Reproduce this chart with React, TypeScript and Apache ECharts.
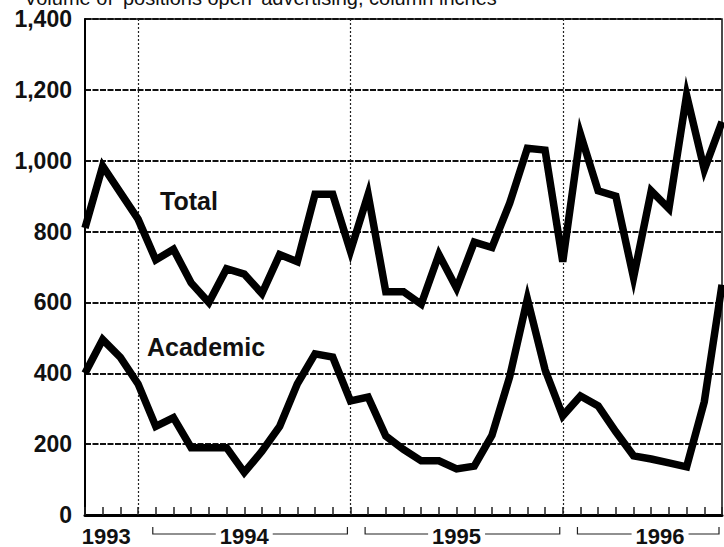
import React, { useEffect, useRef } from "react";
import * as echarts from "echarts";

const months = [
  "Oct 1993", "Nov 1993", "Dec 1993",
  "Jan 1994", "Feb 1994", "Mar 1994", "Apr 1994", "May 1994", "Jun 1994",
  "Jul 1994", "Aug 1994", "Sep 1994", "Oct 1994", "Nov 1994", "Dec 1994",
  "Jan 1995", "Feb 1995", "Mar 1995", "Apr 1995", "May 1995", "Jun 1995",
  "Jul 1995", "Aug 1995", "Sep 1995", "Oct 1995", "Nov 1995", "Dec 1995",
  "Jan 1996", "Feb 1996", "Mar 1996", "Apr 1996", "May 1996", "Jun 1996",
  "Jul 1996", "Aug 1996", "Sep 1996", "Oct 1996",
];

const totalValues = [
  810, 985, 910, 835, 720, 750, 655, 600, 695, 680, 625, 735, 715, 905, 905,
  745, 905, 630, 630, 595, 735, 640, 770, 755, 880, 1035, 1030, 715, 1075,
  915, 900, 670, 915, 865, 1185, 975, 1110,
];

const academicValues = [
  400, 495, 445, 370, 250, 275, 190, 190, 190, 120, 180, 250, 370, 455, 446,
  322, 333, 223, 185, 153, 153, 130, 138, 225, 390, 610, 410, 280, 336, 308,
  235, 167, 158, 147, 136, 320, 650,
];

const yTicks = [0, 200, 400, 600, 800, 1000, 1200, 1400];
const seriesNames = ["Total", "Academic"];
const titleText = "Volume of \u2018positions open\u2019 advertising, column inches";

// year labels: label, bracket start index, bracket end index, label position index
const yearLabels = ["1993", "1994", "1995", "1996"];
const yearBracketFrom = [null, 4, 16, 28];
const yearBracketTo = [null, 15, 27, 36];
const yearLabelAt = [1.2, 9, 21, 32.5];

const FONT = "'Liberation Sans', Arial, Helvetica, sans-serif";

export default function App() {
  const ref = useRef<HTMLDivElement>(null);

  useEffect(() => {
    if (!ref.current) return;
    const chart = echarts.init(ref.current, null, { renderer: "svg" });
    chart.setOption({
      animation: false,
      backgroundColor: "#fff",
      grid: {
        left: 85,
        right: 2,
        top: 19,
        bottom: 32,
        show: true,
        borderColor: "#111",
        borderWidth: 1.5,
      },
      xAxis: {
        type: "category",
        data: months,
        boundaryGap: false,
        axisLine: { lineStyle: { color: "#000", width: 3 } },
        axisTick: {
          inside: true,
          length: 8,
          interval: 0,
          lineStyle: { color: "#222", width: 1.5 },
        },
        axisLabel: { show: false },
        splitLine: {
          show: true,
          interval: (i: number) => months[i].startsWith("Jan"),
          lineStyle: { color: "#222", width: 1.2, type: [2, 2] },
        },
      },
      yAxis: {
        type: "value",
        min: yTicks[0],
        max: yTicks[yTicks.length - 1],
        interval: 200,
        axisLine: { show: true, lineStyle: { color: "#000", width: 2 } },
        axisTick: { show: false },
        axisLabel: {
          fontSize: 23,
          fontWeight: "bold",
          color: "#111",
          margin: 13,
          fontFamily: FONT,
          formatter: (v: number) => v.toLocaleString("en-US"),
        },
        splitLine: {
          show: true,
          lineStyle: { color: "#111", width: 1.8, type: [6, 1.5] },
        },
      },
      series: [
        {
          name: seriesNames[0],
          type: "line",
          data: totalValues,
          symbol: "none",
          lineStyle: { color: "#000", width: 7.5, join: "miter", miterLimit: 6 },
          z: 5,
        },
        {
          name: seriesNames[1],
          type: "line",
          data: academicValues,
          symbol: "none",
          lineStyle: { color: "#000", width: 7.5, join: "miter", miterLimit: 6 },
          z: 5,
        },
      ],
    });

    const px = (i: number) => {
      const lo = Math.floor(i);
      const hi = Math.min(Math.ceil(i), months.length - 1);
      const a = chart.convertToPixel({ xAxisIndex: 0 }, months[lo]) as number;
      const b = chart.convertToPixel({ xAxisIndex: 0 }, months[hi]) as number;
      return a + (b - a) * (i - lo);
    };
    const y0 = chart.convertToPixel({ yAxisIndex: 0 }, 0) as number;
    const lineY = y0 + 19;
    const textY = y0 + 21;

    const graphics: any[] = [
      {
        type: "text",
        x: 24,
        y: -2,
        style: {
          text: titleText,
          fontSize: 20,
          lineHeight: 11,
          fontFamily: FONT,
          fill: "#111",
          verticalAlign: "middle",
        },
      },
      {
        type: "text",
        x: 160,
        y: 201,
        style: {
          text: seriesNames[0],
          fontSize: 25,
          fontWeight: "bold",
          fontFamily: FONT,
          fill: "#111",
          verticalAlign: "middle",
        },
        z: 10,
      },
      {
        type: "text",
        x: 147,
        y: 347,
        style: {
          text: seriesNames[1],
          fontSize: 25,
          fontWeight: "bold",
          fontFamily: FONT,
          fill: "#111",
          verticalAlign: "middle",
        },
        z: 10,
      },
    ];

    yearLabels.forEach((lab, k) => {
      const from = yearBracketFrom[k];
      const to = yearBracketTo[k];
      if (from !== null && to !== null) {
        const x1 = px(from) - 3;
        const x2 = px(to) - 3;
        graphics.push({
          type: "polyline",
          shape: {
            points: [
              [x1, lineY - 7],
              [x1, lineY],
              [x2, lineY],
              [x2, lineY - 7],
            ],
          },
          style: { stroke: "#222", lineWidth: 1.2, fill: null },
          z: 5,
        });
      }
      graphics.push({
        type: "text",
        x: px(yearLabelAt[k]),
        y: textY,
        style: {
          text: lab,
          fontSize: 22,
          fontWeight: "bold",
          fontFamily: FONT,
          fill: "#111",
          align: "center",
          verticalAlign: "middle",
          backgroundColor: "#fff",
          padding: [0, 4],
        },
        z: 10,
      });
    });

    chart.setOption({ graphic: graphics });

    return () => chart.dispose();
  }, []);

  return (
    <div
      ref={ref}
      style={{ position: "fixed", left: 0, top: 0, width: 724, height: 547 }}
    />
  );
}
